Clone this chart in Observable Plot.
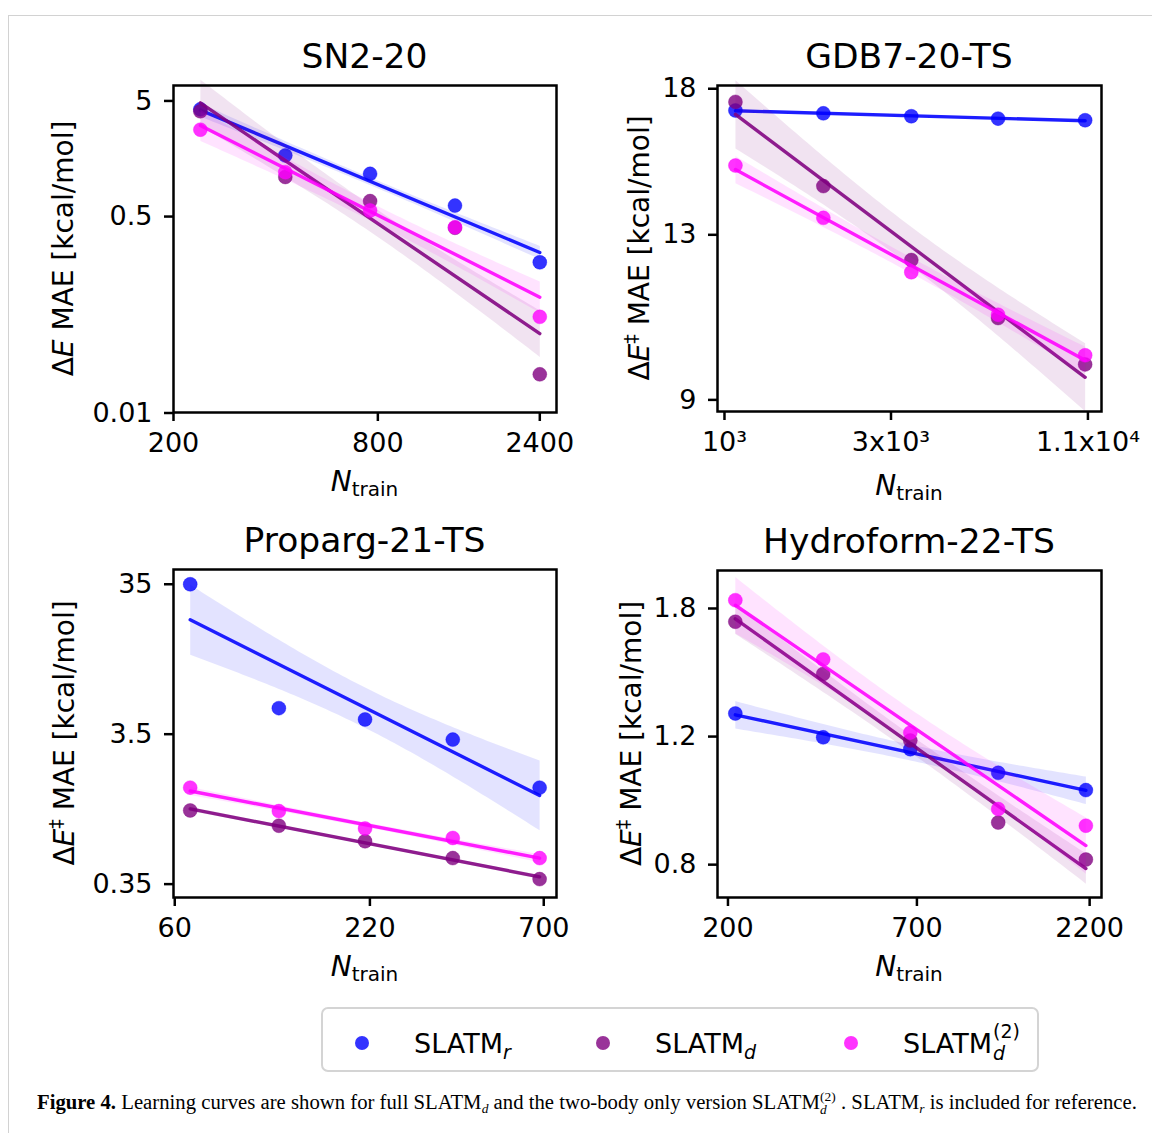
<!DOCTYPE html>
<html>
<head>
<meta charset="utf-8">
<script src="https://cdn.jsdelivr.net/npm/d3@7"></script>
<script src="https://cdn.jsdelivr.net/npm/@observablehq/plot@0.6"></script>
<style>
  html, body { margin: 0; padding: 0; background: #fff; }
  #fig { position: relative; width: 1152px; height: 1133px; overflow: hidden; background: #fff; }
  #border { position: absolute; left: 8px; top: 15px; width: 1300px; height: 1300px; border: 1.5px solid #d2d2d2; box-sizing: border-box; }
  #fig svg.overlay { position: absolute; left: 0; top: 0; }
  #fig svg text { white-space: pre; }
</style>
</head>
<body>
<div id="fig"><div id="border"></div></div>
<script>
// ---------------- data ----------------
const titles = ["SN2-20", "GDB7-20-TS", "Proparg-21-TS", "Hydroform-22-TS"];
const seriesNames = ["SLATM_r", "SLATM_d", "SLATM_d^(2)"];

// SN2-20
const sn2_N  = [240, 427, 759, 1350, 2400];
const sn2_r  = [4.23, 1.69, 1.17, 0.622, 0.201];
const sn2_d  = [4.07, 1.10, 0.68, 0.40, 0.0216];
const sn2_d2 = [2.82, 1.21, 0.564, 0.404, 0.0679];
const sn2_xTicks = [200, 800, 2400];
const sn2_xLabels = ["200", "800", "2400"];
const sn2_yTicks = [0.01, 0.5, 5];
const sn2_yLabels = ["0.01", "0.5", "5"];

// GDB7-20-TS
const gdb_N  = [1075, 1920, 3430, 6080, 10800];
const gdb_r  = [17.15, 17.04, 16.93, 16.84, 16.78];
const gdb_d  = [17.48, 14.49, 12.29, 10.80, 9.74];
const gdb_d2 = [15.17, 13.50, 11.96, 10.88, 9.94];
const gdb_xTicks = [1000, 3000, 11000];
const gdb_xLabels = ["10³", "3x10³", "1.1x10⁴"];
const gdb_yTicks = [9, 13, 18];
const gdb_yLabels = ["9", "13", "18"];

// Proparg-21-TS
const prop_N  = [66.5, 120, 213, 382, 681];
const prop_r  = [35, 5.22, 4.39, 3.22, 1.54];
const prop_d  = [1.085, 0.858, 0.676, 0.522, 0.378];
const prop_d2 = [1.54, 1.074, 0.822, 0.711, 0.522];
const prop_xTicks = [60, 220, 700];
const prop_xLabels = ["60", "220", "700"];
const prop_yTicks = [0.35, 3.5, 35];
const prop_yLabels = ["0.35", "3.5", "35"];

// Hydroform-22-TS
const hydro_N  = [210, 376, 670, 1200, 2146];
const hydro_r  = [1.291, 1.197, 1.153, 1.070, 1.013];
const hydro_d  = [1.726, 1.463, 1.185, 0.914, 0.813];
const hydro_d2 = [1.848, 1.532, 1.215, 0.954, 0.905];
const hydro_xTicks = [200, 700, 2200];
const hydro_xLabels = ["200", "700", "2200"];
const hydro_yTicks = [0.8, 1.2, 1.8];
const hydro_yLabels = ["0.8", "1.2", "1.8"];

// ---------------- layout / style ----------------
const colors = ["#0000ff", "#800080", "#ff00ff"];
const FONT = "DejaVu Sans";

const panels = [
  {title: titles[0], N: sn2_N, series: [sn2_r, sn2_d, sn2_d2], xt: sn2_xTicks, xl: sn2_xLabels, yt: sn2_yTicks, yl: sn2_yLabels,
   xd: [200, 2688], yd: [0.0101, 6.8], box: [173, 85, 556, 412], dagger: false, ylx: 73, xlb: 491, ci: [0.5, 0.5, 0.62]},
  {title: titles[1], N: gdb_N, series: [gdb_r, gdb_d, gdb_d2], xt: gdb_xTicks, xl: gdb_xLabels, yt: gdb_yTicks, yl: gdb_yLabels,
   xd: [955, 12030], yd: [8.77, 18.13], box: [717, 85, 1101, 411], dagger: true, ylx: 649, xlb: 495, ci: [0.95, 0.95, 0.95]},
  {title: titles[2], N: prop_N, series: [prop_r, prop_d, prop_d2], xt: prop_xTicks, xl: prop_xLabels, yt: prop_yTicks, yl: prop_yLabels,
   xd: [59.5, 762], yd: [0.285, 43.9], box: [173, 569, 556, 897], dagger: true, ylx: 74, xlb: 976, ci: [0.72, 0.72, 0.72]},
  {title: titles[3], N: hydro_N, series: [hydro_r, hydro_d, hydro_d2], xt: hydro_xTicks, xl: hydro_xLabels, yt: hydro_yTicks, yl: hydro_yLabels,
   xd: [186.6, 2380], yd: [0.721, 2.03], box: [717, 570, 1101, 897], dagger: true, ylx: 641, xlb: 976, ci: [0.99, 0.8, 0.85]}
];

const fig = document.getElementById("fig");

function drawPanel(p) {
  const [L, T, R, B] = p.box;
  const mL = 130, mT = 14, mR = 14, mB = 70;
  const marks = [];
  p.series.forEach((vals, s) => {
    const d = vals.map((v, i) => ({series: seriesNames[s], N: p.N[i], mae: v}));
    marks.push(Plot.dot(d, {x: "N", y: "mae", r: 7, fill: colors[s], fillOpacity: 0.8,
                            stroke: colors[s], strokeOpacity: 0.35, strokeWidth: 1}));
    marks.push(Plot.linearRegressionY(d, {x: "N", y: "mae", stroke: colors[s], strokeWidth: 3.4,
                            strokeOpacity: 0.88, fill: colors[s], fillOpacity: 0.11, ci: p.ci[s]}));
  });
  const chart = Plot.plot({
    width: mL + (R - L) + mR,
    height: mT + (B - T) + mB,
    marginLeft: mL, marginTop: mT, marginRight: mR, marginBottom: mB,
    x: {type: "log", domain: p.xd},
    y: {type: "log", domain: p.yd},
    style: {fontFamily: FONT, fontSize: "27px", color: "#000", background: "transparent", overflow: "visible"},
    marks: [
      ...marks,
      Plot.frame({stroke: "#000", strokeWidth: 2.5}),
      Plot.axisX({ticks: p.xt, tickFormat: () => "", tickSize: 9, strokeWidth: 2.5, label: null}),
      Plot.axisY({ticks: p.yt, tickFormat: () => "", tickSize: 9, strokeWidth: 2.5, label: null}),
      Plot.text(p.xt, {x: (d) => d, text: (d, i) => p.xl[i], frameAnchor: "bottom", lineAnchor: "top",
                       dy: 20, fontSize: 27, fill: "#000"}),
      Plot.text(p.yt, {y: (d) => d, text: (d, i) => p.yl[i], frameAnchor: "left", textAnchor: "end",
                       dx: -21, fontSize: 27, fill: "#000"})
    ]
  });
  chart.style.position = "absolute";
  chart.style.left = (L - mL) + "px";
  chart.style.top = (T - mT) + "px";
  fig.appendChild(chart);
}
panels.forEach(drawPanel);

// ---------------- text overlay ----------------
const svg = d3.select(fig).append("svg").attr("class", "overlay")
  .attr("width", 1152).attr("height", 1133)
  .style("pointer-events", "none");

function text(parent, x, y, parts, opts = {}) {
  const t = parent.append("text")
    .attr("x", x).attr("y", y)
    .attr("font-family", opts.family || FONT)
    .attr("font-size", opts.size || 27)
    .attr("text-anchor", opts.anchor || "start")
    .attr("fill", "#000");
  if (opts.transform) t.attr("transform", opts.transform);
  parts.forEach((pt) => {
    const ts = t.append("tspan").text(pt.t);
    if (pt.italic) ts.attr("font-style", "italic");
    if (pt.bold) ts.attr("font-weight", "bold");
    if (pt.size) ts.attr("font-size", pt.size);
    if (pt.dy) ts.attr("dy", pt.dy);
  });
  return t;
}

panels.forEach((p) => {
  const [L, T, R, B] = p.box;
  const cx = (L + R) / 2, cy = (T + B) / 2;
  text(svg, cx, T - 17, [{t: p.title}], {size: 34.5, anchor: "middle"});
  text(svg, cx, p.xlb, [{t: "N", italic: true}, {t: "train", size: 20, dy: 5}], {size: 28, anchor: "middle"});
  const parts = [{t: "Δ"}, {t: "E", italic: true}];
  if (p.dagger) parts.push({t: "‡", size: 19, dy: -11}, {t: " MAE [kcal/mol]", dy: 11});
  else parts.push({t: " MAE [kcal/mol]"});
  text(svg, 0, 0, parts, {size: 28, anchor: "middle", transform: `translate(${p.ylx},${cy}) rotate(-90)`});
});

// ---------------- legend ----------------
svg.append("rect").attr("x", 322).attr("y", 1008).attr("width", 716).attr("height", 63)
  .attr("rx", 6).attr("fill", "#fff").attr("stroke", "#d4d4d4").attr("stroke-width", 2);
const legendX = [362, 603, 851];
legendX.forEach((lx, i) => {
  svg.append("circle").attr("cx", lx).attr("cy", 1043).attr("r", 7)
    .attr("fill", colors[i]).attr("fill-opacity", 0.8);
});
text(svg, 414, 1053, [{t: "SLATM"}, {t: "r", italic: true, size: 19, dy: 6}], {size: 27});
text(svg, 655, 1053, [{t: "SLATM"}, {t: "d", italic: true, size: 19, dy: 6}], {size: 27});
{
  const t = text(svg, 903, 1053, [{t: "SLATM"}], {size: 27});
  const w = t.node().getComputedTextLength();
  text(svg, 903 + w + 1, 1038, [{t: "(2)"}], {size: 19});
  text(svg, 903 + w + 1, 1060, [{t: "d", italic: true}], {size: 19});
}

// ---------------- caption ----------------
{
  const g = svg.append("g");
  const SERIF = "Liberation Serif";
  let x = 0;
  function piece(str, o = {}) {
    const t = g.append("text").attr("x", x).attr("y", o.dy || 0)
      .attr("font-family", SERIF).attr("font-size", o.size || 20).attr("fill", "#000").text(str);
    if (o.bold) t.attr("font-weight", "bold");
    if (o.italic) t.attr("font-style", "italic");
    const w = t.node().getComputedTextLength();
    if (!o.noAdvance) x += w;
    return w;
  }
  piece("Figure 4.", {bold: true});
  piece(" Learning curves are shown for full SLATM");
  piece("d", {italic: true, size: 13, dy: 4});
  piece(" and the two-body only version SLATM");
  const w1 = piece("(2)", {size: 13, dy: -8, noAdvance: true});
  const w2 = piece("d", {italic: true, size: 13, dy: 5, noAdvance: true});
  x += Math.max(w1, w2);
  piece(" . SLATM");
  piece("r", {italic: true, size: 13, dy: 4});
  piece(" is included for reference.");
  const sx = 1100 / x;
  g.attr("transform", `translate(37,1109) scale(${sx},1)`);
}
</script>
</body>
</html>
